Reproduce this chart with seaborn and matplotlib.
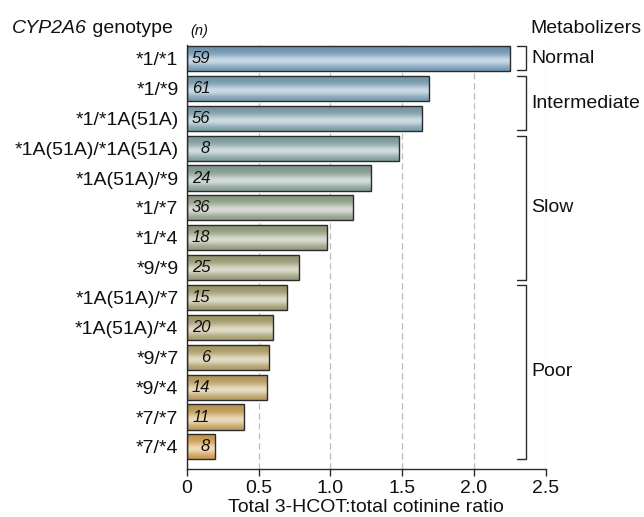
import numpy as np
import matplotlib
matplotlib.use("Agg")
import matplotlib.pyplot as plt
import seaborn as sns
from matplotlib.colors import LinearSegmentedColormap, to_rgb

# ----------------------------
# Data
# ----------------------------
genotypes = ["*1/*1", "*1/*9", "*1/*1A(51A)", "*1A(51A)/*1A(51A)", "*1A(51A)/*9",
             "*1/*7", "*1/*4", "*9/*9", "*1A(51A)/*7", "*1A(51A)/*4",
             "*9/*7", "*9/*4", "*7/*7", "*7/*4"]
ratios = [2.25, 1.69, 1.64, 1.48, 1.28, 1.16, 0.98, 0.78, 0.70, 0.60, 0.575, 0.56, 0.40, 0.20]
counts = [59, 61, 56, 8, 24, 36, 18, 25, 15, 20, 6, 14, 11, 8]

groups = ["Normal", "Intermediate", "Slow", "Poor"]
group_first = [0, 1, 3, 8]
group_last = [0, 2, 7, 13]

x_ticks = [0, 0.5, 1.0, 1.5, 2.0, 2.5]
x_ticklabels = ["0", "0.5", "1.0", "1.5", "2.0", "2.5"]

# ----------------------------
# Style
# ----------------------------
sns.set_theme(style="ticks")
plt.rcParams["font.family"] = ["Liberation Sans", "DejaVu Sans"]
INK = "#2b2b2b"
TXT = "#111111"
FS = 14

cmap = LinearSegmentedColormap.from_list(
    "bars", ["#7aa2c0", "#86a7ae", "#9aa88f", "#a7a376", "#bca76d", "#d8a553"])
colors = [cmap(i / (len(genotypes) - 1)) for i in range(len(genotypes))]


def shade(color, n=80):
    # cylinder-like vertical shading: darker edges, light band a bit below centre
    base = np.array(to_rgb(color))
    t = np.linspace(0, 1, n)
    w = 0.6 * np.exp(-((t - 0.6) / 0.22) ** 2)
    dark = 1 - 0.12 * np.abs(t - 0.6) / 0.6
    rows = base * dark[:, None] * (1 - w[:, None]) + w[:, None]
    return np.clip(rows[:, None, :], 0, 1)


fig = plt.figure(figsize=(6.44, 5.17), dpi=100)
ax = fig.add_axes([0.290, 0.0934, 0.5574, 0.8194])

sns.barplot(x=ratios, y=genotypes, hue=genotypes, palette=colors, orient="h",
            width=0.84, legend=False, edgecolor=INK, linewidth=1.0, ax=ax)

# gradient fill clipped to each bar
for patch, col in zip(ax.patches, colors):
    x0, y0 = patch.get_x(), patch.get_y()
    w, h = patch.get_width(), patch.get_height()
    im = ax.imshow(shade(col), extent=[x0, x0 + w, y0 + h, y0], aspect="auto",
                   interpolation="bilinear", zorder=1.5)
    im.set_clip_path(patch)
    patch.set_facecolor("none")
    patch.set_zorder(2)

# sample sizes
for i, n in enumerate(counts):
    ax.text(0.163, i, str(n), ha="right", va="center", style="italic",
            fontsize=12, color=TXT, zorder=3)

ax.set_xlim(0, 2.5)
ax.set_ylim(13.73, -0.45)
ax.set_xticks(x_ticks)
ax.set_xticklabels(x_ticklabels)
ax.set_axisbelow(True)
ax.xaxis.grid(True, linestyle=(0, (5, 3)), color="#bdbdbd", linewidth=0.9)
ax.yaxis.grid(False)

ax.tick_params(axis="x", direction="out", length=5, width=1, color=INK,
               labelsize=FS, labelcolor=TXT, pad=3)
ax.tick_params(axis="y", length=0, labelsize=FS, labelcolor=TXT, pad=6)
ax.set_xlabel("Total 3-HCOT:total cotinine ratio", fontsize=FS, color=TXT, labelpad=1.5)
ax.set_ylabel("")

sns.despine(ax=ax, top=True, right=True)
for s in ["left", "bottom"]:
    ax.spines[s].set_color(INK)
    ax.spines[s].set_linewidth(1.0)

# metabolizer brackets
bx, bt = 2.36, 2.30
for name, a, b in zip(groups, group_first, group_last):
    top, bot = a - 0.42, b + 0.4
    ax.plot([bt, bx, bx, bt], [top, top, bot, bot], color=INK, lw=1.0,
            clip_on=False, zorder=3)
    ax.text(2.40, (top + bot) / 2, name, ha="left", va="center", fontsize=FS,
            color=TXT, clip_on=False)

# header texts
head_y = 1 - 33 / 517
t1 = fig.text(12 / 644, head_y, "CYP2A6", style="italic", fontsize=FS,
              ha="left", va="baseline", color=TXT)
t2 = ax.annotate(" genotype", xy=(1, 0), xycoords=t1, ha="left", va="bottom",
                 fontsize=FS, color=TXT, annotation_clip=False)
ax.annotate("(n)", xy=(1, 0), xycoords=t2, xytext=(13, -0.5), textcoords="offset points",
            ha="left", va="bottom", fontsize=10.5, style="italic", color=TXT,
            annotation_clip=False)
fig.text(530 / 644, head_y, "Metabolizers", fontsize=FS, ha="left",
         va="baseline", color=TXT)

fig.savefig("out.png", dpi=100)
